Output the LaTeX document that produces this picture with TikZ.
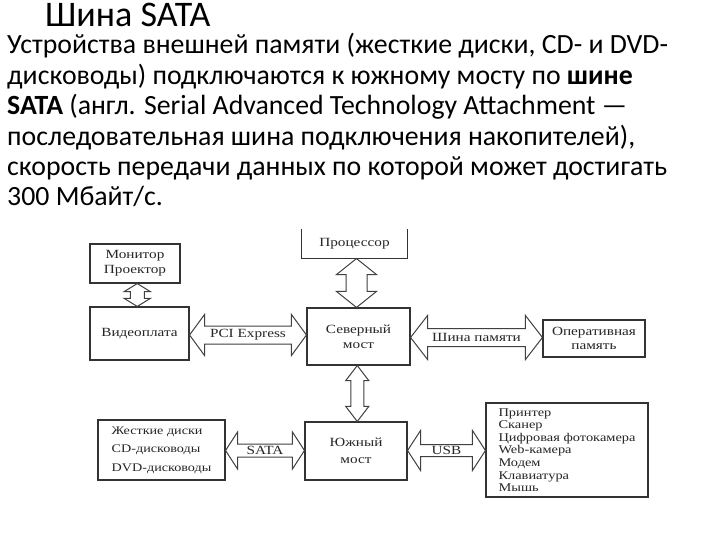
\documentclass[tikz,border=0pt]{standalone}
\usepackage{fontspec}
\setmainfont{Liberation Serif}[FakeStretch=1.22]
\newfontfamily\calib{Carlito}
\usetikzlibrary{calc}

% fat double arrow between two nodes, horizontal: shaft half, head half, head length
\newcommand{\hbus}[5]{%
  \draw[bus] let \p1=(#1.east), \p2=(#2.west), \p3=($(#1.east)!.5!(#2.west)$) in
    (\x1,\y3) -- ++(#5pt,#4pt) -- ++(0pt,#3pt-#4pt) -- (\x2-#5pt,\y3+#3pt) -- ++(0pt,#4pt-#3pt)
    -- (\x2,\y3) -- ++(-#5pt,-#4pt) -- ++(0pt,#4pt-#3pt) -- (\x1+#5pt,\y3-#3pt) -- ++(0pt,#3pt-#4pt) -- cycle;}
% same, vertical
\newcommand{\vbus}[5]{%
  \draw[bus] let \p1=(#1.south), \p2=(#2.north), \p3=($(#1.south)!.5!(#2.north)$) in
    (\x3,\y1) -- ++(#4pt,-#5pt) -- ++(#3pt-#4pt,0pt) -- (\x3+#3pt,\y2+#5pt) -- ++(#4pt-#3pt,0pt)
    -- (\x3,\y2) -- ++(-#4pt,#5pt) -- ++(#4pt-#3pt,0pt) -- (\x3-#3pt,\y1-#5pt) -- ++(#3pt-#4pt,0pt) -- cycle;}

\begin{document}
\begin{tikzpicture}[
        x=1pt, y=-1pt,
        blk/.style={rectangle, draw=black!80, line width=1.1pt, fill=white, text=black!85,
            font=\fontsize{12.5}{15}\selectfont, align=center, inner sep=2pt},
        bus/.style={draw=black!75, line width=1pt, fill=white, line join=miter},
        buslbl/.style={font=\fontsize{12.5}{15}\selectfont, text=black!85, inner sep=1pt},
    ]
        \useasboundingbox[fill=white] (0,0) rectangle (720,540);

        % Heading and text
        \node[anchor=base west, inner sep=0pt, font=\calib\fontsize{36}{40}\selectfont] (title) at (45,27) {Шина SATA};
        \node[anchor=base west, inner sep=0pt, align=left, font=\calib\fontsize{27.8}{30.4}\selectfont] (body) at (7,206) {%
            Устройства внешней памяти (жесткие диски, CD- и DVD-\\
            дисководы) подключаются к южному мосту по \textbf{шине}\\
            \textbf{SATA} (англ. Serial Advanced Technology Attachment —\\
            последовательная шина подключения накопителей),\\
            скорость передачи данных по которой может достигать\\
            300 Мбайт/с.};

        % Blocks
        \node[blk, minimum width=90, minimum height=39] (mon) at (135,263.5) {Монитор\\Проектор};
        \node[blk, minimum width=99, minimum height=53] (vc) at (139.5,333.5) {Видеоплата};
        \node[blk, draw=none, fill=none, minimum width=105, minimum height=28] (cpu) at (354.5,244) {Процессор};
        \node[blk, minimum width=103, minimum height=57] (nb) at (358.5,336.5) {Северный\\мост};
        \node[blk, minimum width=102, minimum height=37, font=\fontsize{12.5}{13.5}\selectfont] (ram) at (594,338.5) {Оперативная\\память};
        \node[blk, minimum width=102, minimum height=58, font=\fontsize{12.5}{17}\selectfont] (sb) at (356,451) {Южный\\мост};
        \node[blk, minimum width=127, minimum height=60, align=left, font=\fontsize{11.6}{18.5}\selectfont] (drv) at (161.5,450) {Жесткие диски\\CD-дисководы\\DVD-дисководы};
        \node[blk, minimum width=162, minimum height=94, align=left, font=\fontsize{11.8}{12.6}\selectfont] (dev) at (567,450) {Принтер\\Сканер\\Цифровая фотокамера\\Web-камера\\Модем\\Клавиатура\\Мышь};

        % Processor box is open on top
        \draw[draw=black!80, line width=1.1pt] (cpu.north west) |- (cpu.south east) -- (cpu.north east);

        % Buses
        \vbus{mon}{vc}{7}{13}{8}
        \vbus{cpu}{nb}{10.5}{20}{16}
        \vbus{nb}{sb}{6.5}{11.5}{15}
        \hbus{vc}{nb}{9}{20.5}{15}
        \hbus{nb}{ram}{9}{22}{17}
        \hbus{drv}{sb}{6.5}{18.5}{12}
        \hbus{sb}{dev}{6}{20}{13}

        % Bus labels
        \node[buslbl] (pci) at ($(vc.east)!.5!(nb.west)$) {PCI Express};
        \node[buslbl] (mem) at ($(nb.east)!.5!(ram.west)$) {Шина памяти};
        \node[buslbl] (sata) at ($(drv.east)!.5!(sb.west)$) {SATA};
        \node[buslbl] (usb) at ($(sb.east)!.5!(dev.west)$) {USB};
\end{tikzpicture}
\end{document}
